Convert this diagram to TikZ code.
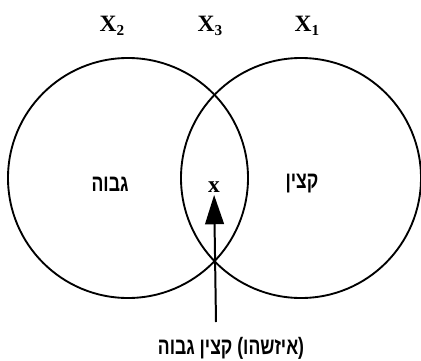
\documentclass[tikz,border=0pt]{standalone}
\usepackage{fontspec}
\usepackage{graphicx}
\setmainfont{Liberation Serif}
\newfontfamily\hebfont[Script=Hebrew]{Liberation Sans}
\TeXXeTstate=1
\usetikzlibrary{arrows.meta}
\newcommand\setname[1]{X\raisebox{-0.4ex}{\fontsize{13}{13}\selectfont #1}}
\newcommand\hebword[1]{\scalebox{1}[1.35]{\beginR #1\endR}}
\tikzset{
  set/.style={draw, circle, line width=1.6pt, minimum size=7.2cm, inner sep=0pt},
  setlabel/.style={font=\fontsize{20}{20}\selectfont\bfseries},
  word/.style={font=\hebfont\fontsize{15}{15}\selectfont\bfseries},
  member/.style={font=\fontsize{20}{20}\selectfont\bfseries},
  pointer/.style={-{Triangle[length=25pt, width=16pt]}, line width=1.7pt},
}
\begin{document}
\begin{tikzpicture}[x=0.03cm, y=-0.03cm]
  \useasboundingbox (0,0) rectangle (421,360);
  % the two sets
  \node[set] (tall) at (128,178) {};
  \node[set] (officer) at (301,178) {};
  \node[setlabel] (x2) at (112,26) {\setname{2}};
  \node[setlabel] (x3) at (210,26) {\setname{3}};
  \node[setlabel] (x1) at (307,26) {\setname{1}};
  % words and the element in the overlap
  \node[word] (tallw) at (110,184) {\hebword{גבוה}};
  \node[word] (officerw) at (302,184) {\hebword{קצין}};
  \node[member, inner sep=2pt] (elem) at (214,187) {x};
  \coordinate (tail) at (216,322);
  \draw[pointer] (tail) -- (elem);
  \node[word] (some) at (231,348) {\hebword{(איזשהו) קצין גבוה}};
\end{tikzpicture}
\end{document}
